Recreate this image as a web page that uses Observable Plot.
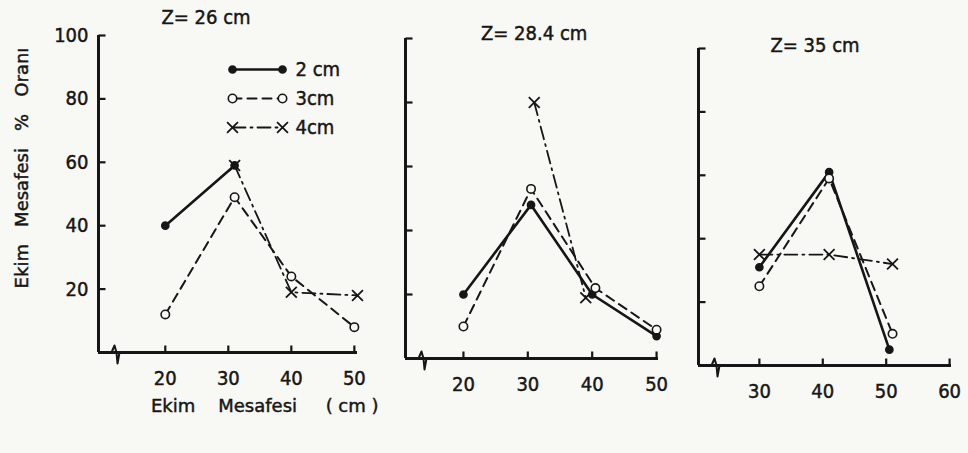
<!DOCTYPE html>
<html>
<head>
<meta charset="utf-8">
<script src="https://cdn.jsdelivr.net/npm/d3@7"></script>
<script src="https://cdn.jsdelivr.net/npm/@observablehq/plot@0.6"></script>
<style>
  body { margin: 0; background: #f8f8f4; }
  #chart { position: relative; width: 968px; height: 453px; overflow: hidden;
           font-family: "DejaVu Sans Condensed", "DejaVu Sans", sans-serif; color: #161616; }
  #chart svg { position: absolute; left: 0; top: 0; background: transparent; overflow: visible; }
  #chart svg text { stroke: #161616; stroke-width: 0.45px; }
  .lbl { position: absolute; white-space: pre; font-size: 20px; line-height: 1; -webkit-text-stroke: 0.45px #161616; }
  .wide { font-family: "DejaVu Sans", sans-serif; font-size: 18px; }
</style>
</head>
<body>
<div id="chart"></div>
<script>
// ---------- data ----------
const seriesNames = ["2 cm", "3cm", "4cm"];
const panelTitles = ["Z= 26 cm", "Z= 28.4 cm", "Z= 35 cm"];
const yTickValues = [20, 40, 60, 80, 100];
const xTicksP1 = [20, 30, 40, 50];
const xTicksP2 = [20, 30, 40, 50];
const xTicksP3 = [30, 40, 50, 60];
const xAxisLabel = "Ekim    Mesafesi     ( cm )";
const yAxisLabel = "Ekim   Mesafesi   %   Oranı";

// Z = 26 cm
const p1_2cm_x = [20, 31];
const p1_2cm_y = [40, 59];
const p1_3cm_x = [20, 31, 40, 50];
const p1_3cm_y = [12, 49, 24, 8];
const p1_4cm_x = [31, 40, 50.5];
const p1_4cm_y = [59, 19, 18];

// Z = 28.4 cm
const p2_2cm_x = [20, 30.5, 40, 50];
const p2_2cm_y = [20, 48, 20, 7];
const p2_3cm_x = [20, 30.5, 40.5, 50];
const p2_3cm_y = [10, 53, 22, 9];
const p2_4cm_x = [31, 39];
const p2_4cm_y = [80, 19];

// Z = 35 cm
const p3_2cm_x = [30, 41, 50.5];
const p3_2cm_y = [31, 61, 5];
const p3_3cm_x = [30, 41, 51];
const p3_3cm_y = [25, 59, 10];
const p3_4cm_x = [30, 41, 51];
const p3_4cm_y = [35, 35, 32];

// ---------- helpers ----------
const INK = "#161616";
const FONT = '"DejaVu Sans Condensed", "DejaVu Sans", sans-serif';
const W = 968, H = 453;
const zip = (xs, ys) => xs.map((x, i) => ({x, y: ys[i]}));

const stubRight = {draw(ctx) { ctx.moveTo(0, 0); ctx.lineTo(7, 0); }};
const stubUp = {draw(ctx) { ctx.moveTo(0, 0); ctx.lineTo(0, -7); }};
// axis-break zigzag drawn just right of the axis corner
const breakMark = {draw(ctx) {
  ctx.moveTo(13, 0); ctx.lineTo(16, -7); ctx.lineTo(18, 0); ctx.lineTo(19, 11); ctx.lineTo(21, 0);
}};

const styles = {
  "2 cm": {strokeWidth: 2.6, dash: null, marker: "filled"},
  "3cm": {strokeWidth: 2, dash: "9,6", marker: "open"},
  "4cm": {strokeWidth: 1.8, dash: "13,5,2,5", marker: "times"}
};

function seriesMarks(name, pts) {
  const s = styles[name];
  const marks = [Plot.line(pts, {x: "x", y: "y", stroke: INK, strokeWidth: s.strokeWidth,
                                 strokeDasharray: s.dash, strokeLinejoin: "round"})];
  if (s.marker === "filled") marks.push(Plot.dot(pts, {x: "x", y: "y", r: 3.6, fill: INK, stroke: INK}));
  if (s.marker === "open") marks.push(Plot.dot(pts, {x: "x", y: "y", r: 4.2, fill: "#f8f8f4", stroke: INK, strokeWidth: 1.6}));
  if (s.marker === "times") marks.push(Plot.dot(pts, {x: "x", y: "y", r: 5, symbol: "times", stroke: INK, strokeWidth: 1.8}));
  return marks;
}

function panel({frame, xDomain, xTicks, showYLabels, data}) {
  const [fl, fr, ft, fb] = frame;
  return Plot.plot({
    width: W, height: H,
    marginLeft: fl, marginRight: W - fr, marginTop: ft, marginBottom: H - fb,
    x: {domain: xDomain}, y: {domain: [0, 100]},
    style: {background: "transparent", fontFamily: FONT, color: INK, overflow: "visible"},
    marks: [
      Plot.axisY(showYLabels ? yTickValues : [], {tickSize: 0, tickPadding: 10, fontSize: 20, label: null}),
      Plot.axisX(xTicks, {tickSize: 0, tickPadding: 18, fontSize: 20, label: null}),
      Plot.ruleX([xDomain[0]], {y1: 0, y2: 100, stroke: INK, strokeWidth: 3}),
      Plot.ruleY([0], {x1: xDomain[0], x2: xDomain[1], stroke: INK, strokeWidth: 3}),
      Plot.dot(yTickValues, {x: () => xDomain[0], y: d => d, symbol: stubRight, stroke: INK, fill: "none", strokeWidth: 2.2}),
      Plot.dot(xTicks, {x: d => d, y: () => 0, symbol: stubUp, stroke: INK, fill: "none", strokeWidth: 2.2}),
      Plot.dot([xDomain[0]], {x: d => d, y: () => 0, symbol: breakMark, stroke: INK, fill: "none", strokeWidth: 2, strokeLinejoin: "round"}),
      ...data.flatMap(([name, pts]) => seriesMarks(name, pts))
    ]
  });
}

const chart = document.getElementById("chart");

chart.append(panel({
  frame: [98, 357, 35, 352], xDomain: [9.4, 50.5], xTicks: xTicksP1, showYLabels: true,
  data: [["2 cm", zip(p1_2cm_x, p1_2cm_y)], ["3cm", zip(p1_3cm_x, p1_3cm_y)], ["4cm", zip(p1_4cm_x, p1_4cm_y)]]
}));
chart.append(panel({
  frame: [405, 658, 38, 358], xDomain: [11, 50.3], xTicks: xTicksP2, showYLabels: false,
  data: [["2 cm", zip(p2_2cm_x, p2_2cm_y)], ["3cm", zip(p2_3cm_x, p2_3cm_y)], ["4cm", zip(p2_4cm_x, p2_4cm_y)]]
}));
chart.append(panel({
  frame: [698, 951, 48, 365], xDomain: [20.4, 60.3], xTicks: xTicksP3, showYLabels: false,
  data: [["2 cm", zip(p3_2cm_x, p3_2cm_y)], ["3cm", zip(p3_3cm_x, p3_3cm_y)], ["4cm", zip(p3_4cm_x, p3_4cm_y)]]
}));

// legend (its own small scales: x = line start/end, y = series)
const legendRows = seriesNames.flatMap(s => [{s, x: 0}, {s, x: 1}]);
chart.append(Plot.plot({
  width: W, height: H,
  marginLeft: 232, marginRight: W - 282, marginTop: 68, marginBottom: H - 127,
  x: {domain: [0, 1], axis: null},
  y: {type: "point", domain: seriesNames, padding: 0, axis: null},
  style: {background: "transparent", fontFamily: FONT, color: INK, overflow: "visible"},
  marks: [
    ...seriesNames.flatMap(name => seriesMarks(name, legendRows.filter(r => r.s === name).map(r => ({x: r.x, y: r.s})))),
    Plot.text(seriesNames, {x: () => 1, y: d => d, text: d => d, dx: 13, textAnchor: "start", fontSize: 20})
  ]
}));

// titles and axis labels
function label(text, cx, cy, rotate, cls) {
  const d = document.createElement("div");
  d.className = "lbl" + (cls ? " " + cls : "");
  d.textContent = text;
  chart.append(d);
  const w = d.offsetWidth, h = d.offsetHeight;
  d.style.left = (cx - w / 2) + "px";
  d.style.top = (cy - h / 2) + "px";
  if (rotate) d.style.transform = "rotate(-90deg)";
  return d;
}
label(panelTitles[0], 206, 17);
label(panelTitles[1], 534, 33);
label(panelTitles[2], 815, 45);
label(xAxisLabel, 265, 406, false, "wide");
label(yAxisLabel, 22, 168, true, "wide");
</script>
</body>
</html>
